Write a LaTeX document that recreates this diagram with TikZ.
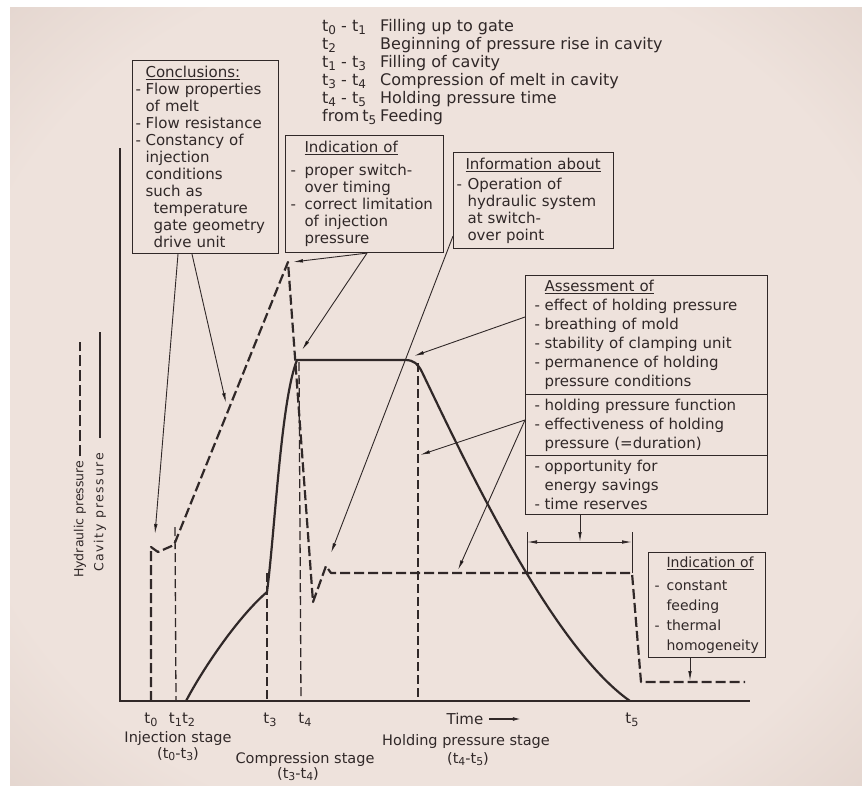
\documentclass[tikz,border=0pt]{standalone}
\usepackage{fontspec}
\setmainfont{DejaVu Sans}
\usetikzlibrary{arrows.meta,calc,shapes.multipart}
\definecolor{ink}{RGB}{48,40,40}
\definecolor{paperhi}{RGB}{238,226,220}
\definecolor{paperlo}{RGB}{198,178,168}
\pgfdeclareradialshading{paper}{\pgfpoint{0bp}{0bp}}{color(0bp)=(paperhi); color(28bp)=(paperhi); color(60bp)=(paperlo); color(72bp)=(paperlo)}
\newcommand\dsh[1][10pt]{\makebox[#1][l]{-}}
\newcommand\ind[1][10pt]{\hspace*{#1}}
\newcommand\tsub[1]{t\raisebox{-0.35ex}{\scalebox{0.75}{#1}}}
\newcommand\lgd[2]{\makebox[58pt][l]{#1}#2}
\tikzset{
  hyd/.style={draw=ink, line width=2.2pt, dash pattern=on 10pt off 4pt},
  cav/.style={draw=ink, line width=2.2pt},
  tline/.style={draw=ink, line width=1.3pt, dash pattern=on 9pt off 4pt},
  axisline/.style={draw=ink, line width=1.3pt},
  pointer/.style={draw=ink, line width=0.9pt, -{Latex[length=10pt,width=3.6pt]}},
  infobox/.style={draw=ink, line width=1.1pt, text=ink, anchor=north west, align=left, inner xsep=3pt, inner ysep=4pt, font=\fontsize{15}{17}\selectfont},
  tlabel/.style={text=ink, font=\fontsize{15}{17}\selectfont},
  stagelbl/.style={text=ink, font=\fontsize{14.5}{16}\selectfont},
}
\begin{document}
\begin{tikzpicture}[x=1pt,y=-1pt]
\useasboundingbox (0,0) rectangle (862,785);
\fill[white] (0,0) rectangle (862,785);
\shade[shading=paper] (10,7) rectangle (862,785);

%AXES
\draw[axisline] (120,148) -- (120,701) -- (750,701);

%TIME MARKS
\draw[tline] (175,527) -- (176,701);
\draw[tline] (267,573) -- (267,701);
\draw[tline] (299,362) -- (301,701);
\draw[tline] (418,363) -- (418,701);

%HYDRAULIC PRESSURE
\draw[hyd, line join=round] (151,701) -- (151,547) -- (158,552) -- (174,545) -- (288,262) -- (313,602) -- (326,566) -- (331,573) -- (632,573) -- (641,682) -- (745,682);

%CAVITY PRESSURE
\draw[cav] (186,701) .. controls (205,665) and (240,615) .. (267,592) .. controls (275,530) and (281,400) .. (297,360) -- (405,360) .. controls (414,360) and (418,364) .. (422,372) .. controls (462,455) and (550,645) .. (630,701);

%targets on the curves
\coordinate (pt0) at (155,534);
\coordinate (pslope) at (226,403);
\coordinate (ppeak) at (293,262);
\coordinate (pcavtop) at (302,350);
\coordinate (pdip) at (331,553);
\coordinate (pcorner) at (414,356);
\coordinate (pmid) at (420,455);
\coordinate (phold) at (458,570);
\coordinate (pbrk) at (580,542);
\coordinate (pfeed) at (690,681);
\coordinate (brl) at (527,542);
\coordinate (brr) at (632,542);

%LEGEND
\node[anchor=north west, align=left, text=ink, font=\fontsize{16}{18}\selectfont, inner sep=0pt] (legend) at (322,19) {%
\lgd{\tsub0 - \tsub1}{Filling up to gate}\\
\lgd{\tsub2}{Beginning of pressure rise in cavity}\\
\lgd{\tsub1 - \tsub3}{Filling of cavity}\\
\lgd{\tsub3 - \tsub4}{Compression of melt in cavity}\\
\lgd{\tsub4 - \tsub5}{Holding pressure time}\\
\lgd{from\hspace{3pt}\tsub5}{Feeding}};

%BOXES
\node[infobox, text width=140pt, minimum height=193pt] (conc) at (132,60) {%
\ind\underline{Conclusions:}\\
\dsh Flow properties\\
\ind of melt\\
\dsh Flow resistance\\
\dsh Constancy of\\
\ind injection\\
\ind conditions\\
\ind such as\\
\ind[18pt]temperature\\
\ind[18pt]gate geometry\\
\ind[18pt]drive unit};

\node[infobox, text width=148pt, minimum height=117pt, inner xsep=5pt] (indsw) at (285,135) {%
\ind[14pt]\underline{Indication of}\\[6pt]
\dsh[14pt]proper switch-\\
\ind[14pt]over timing\\
\dsh[14pt]correct limitation\\
\ind[14pt]of injection\\
\ind[14pt]pressure};

\node[infobox, text width=154pt, minimum height=96pt] (info) at (453,152) {%
\ind[9pt]\underline{Information about}\\[3pt]
\dsh[11pt]Operation of\\
\ind[11pt]hydraulic system\\
\ind[11pt]at switch-\\
\ind[11pt]over point};

\node[infobox, rectangle split, rectangle split parts=3, text width=224pt, inner xsep=9pt, font=\fontsize{15}{19}\selectfont] (assess) at (525,275) {%
\ind\underline{Assessment of}\\
\dsh effect of holding pressure\\
\dsh breathing of mold\\
\dsh stability of clamping unit\\
\dsh permanence of holding\\
\ind pressure conditions
\nodepart{two}
\dsh holding pressure function\\
\dsh effectiveness of holding\\
\ind pressure (=duration)
\nodepart{three}
\dsh opportunity for\\
\ind energy savings\\
\dsh time reserves};

\node[infobox, text width=105pt, minimum height=103pt, inner xsep=6pt, font=\fontsize{14}{20}\selectfont] (feedbox) at (648,552) {%
\ind[12pt]\underline{Indication of}\\[3pt]
\dsh[12pt]constant\\
\ind[12pt]feeding\\
\dsh[12pt]thermal\\
\ind[12pt]homogeneity};

%ARROWS
\draw[pointer] ($(conc.south west)+(46,0)$) -- (pt0);
\draw[pointer] ($(conc.south west)+(60,0)$) -- (pslope);
\draw[pointer] ($(indsw.south west)+(82,0)$) -- (ppeak);
\draw[pointer] ($(indsw.south west)+(82,0)$) -- (pcavtop);
\draw[pointer] ($(info.south west)+(0,-13)$) -- (pdip);
\draw[pointer] ($(assess.north west)+(0,42)$) -- (pcorner);
\draw[pointer] ($(assess.north west)+(0,145)$) -- (pmid);
\draw[pointer] ($(assess.north west)+(0,145)$) -- (phold);
\draw[pointer] (assess.south west -| pbrk) -- (pbrk);
\draw[pointer] (feedbox.south west -| pfeed) -- (pfeed);

%BRACKET
\draw[ink, line width=0.9pt] (527,532) -- (527,573) (632,532) -- (632,573);
\draw[ink, line width=0.9pt, {Latex[length=10pt,width=3.6pt]}-{Latex[length=10pt,width=3.6pt]}] (brl) -- (brr);

%AXIS LABELS
\node[rotate=90, anchor=west, text=ink, font=\fontsize{12.5}{15}\selectfont, inner sep=0pt] (hydlbl) at (80,578) {Hydraulic pressure};
\draw[ink, line width=2pt, dash pattern=on 11pt off 4pt] ($(hydlbl.east)+(0,-4)$) -- ++(0,-114);
\node[rotate=90, anchor=west, text=ink, font=\fontsize{12.5}{15}\selectfont\addfontfeature{LetterSpace=13}, inner sep=0pt] (cavlbl) at (100,572) {Cavity pressure};
\draw[cav, line width=2pt] (cavlbl.east |- 0,438) -- (cavlbl.east |- 0,332);

\node[tlabel] (lt0) at (151,720) {\tsub0};
\node[tlabel] (lt12) at (182,720) {\tsub1\tsub2};
\node[tlabel] (lt3) at (270,720) {\tsub3};
\node[tlabel] (lt4) at (305,720) {\tsub4};
\node[tlabel] (lt5) at (632,720) {\tsub5};
\node[tlabel, anchor=west] (ltime) at (443,719) {Time};
\draw[ink, line width=1.2pt, -{Latex[length=8pt,width=4pt]}] ($(ltime.east)+(2,0)$) -- ++(32,0);

\node[stagelbl] (linj) at (178,738) {Injection stage};
\node[stagelbl] (linjt) at (178,754) {(\tsub0-\tsub3)};
\node[stagelbl] (lcomp) at (305,759) {Compression stage};
\node[stagelbl] (lcompt) at (298,774) {(\tsub3-\tsub4)};
\node[stagelbl] (lhold) at (466,741) {Holding pressure stage};
\node[stagelbl] (lholdt) at (468,759) {(\tsub4-\tsub5)};
\end{tikzpicture}
\end{document}
